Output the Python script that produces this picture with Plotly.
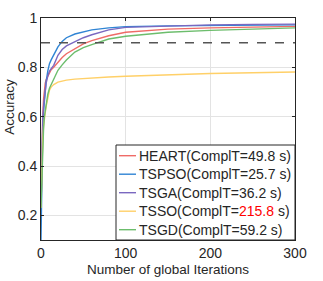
import plotly.graph_objects as go

iters = [0, 1, 2, 3, 4, 5, 6, 8, 10, 12, 15, 20, 25, 30, 40, 50, 60, 80, 100, 150, 200, 250, 300]

heart = [0.23, 0.47, 0.60, 0.67, 0.71, 0.735, 0.75, 0.765, 0.78, 0.79, 0.80, 0.822, 0.84, 0.855, 0.875, 0.895, 0.908, 0.928, 0.942, 0.955, 0.96, 0.964, 0.966]
tspso = [0.10, 0.40, 0.55, 0.62, 0.67, 0.71, 0.74, 0.785, 0.815, 0.83, 0.85, 0.883, 0.905, 0.92, 0.935, 0.945, 0.952, 0.96, 0.965, 0.968, 0.97, 0.971, 0.972]
tsga = [0.23, 0.44, 0.57, 0.64, 0.68, 0.71, 0.735, 0.765, 0.785, 0.795, 0.808, 0.849, 0.872, 0.887, 0.905, 0.92, 0.932, 0.952, 0.962, 0.968, 0.972, 0.974, 0.975]
tsso = [0.23, 0.40, 0.50, 0.56, 0.60, 0.615, 0.64, 0.68, 0.707, 0.72, 0.73, 0.74, 0.745, 0.748, 0.752, 0.755, 0.758, 0.761, 0.764, 0.77, 0.775, 0.778, 0.781]
tsgd = [0.23, 0.38, 0.48, 0.55, 0.60, 0.625, 0.65, 0.69, 0.715, 0.73, 0.748, 0.788, 0.81, 0.83, 0.862, 0.88, 0.892, 0.915, 0.926, 0.942, 0.95, 0.956, 0.96]

names = ["HEART(ComplT=49.8 s)", "TSPSO(ComplT=25.7 s)", "TSGA(ComplT=36.2 s)",
         "TSSO(ComplT=<span style='color:#ff0000'>215.8</span> s)", "TSGD(ComplT=59.2 s)"]
series = [heart, tspso, tsga, tsso, tsgd]
colors = ["#ef6b67", "#2f84d4", "#7a68c0", "#ffd068", "#6cbd6c"]

threshold = 0.9
x_ticks = [0, 100, 200, 300]
y_ticks = [0.2, 0.4, 0.6, 0.8, 1]

W, H = 323, 281
ML, MR, MT, MB = 41, 28, 18, 41
PW, PH = W - ML - MR, H - MT - MB


def px(xp):
    return (xp - ML) / PW


def py(yp):
    return (H - MB - yp) / PH


fig = go.Figure()
for name, ys, c in zip(names, series, colors):
    fig.add_trace(go.Scatter(x=iters, y=ys, mode="lines", name=name, showlegend=False,
                             line=dict(color=c, width=1.4)))

fig.add_shape(type="line", xref="x", yref="y", x0=0, x1=300, y0=threshold, y1=threshold,
              line=dict(color="#555555", width=1.5, dash="dash"))

# custom legend box (matches reference compact layout)
fig.add_shape(type="rect", xref="paper", yref="paper", x0=px(116), x1=px(295), y0=py(240), y1=py(145),
              line=dict(color="#262626", width=1), fillcolor="white", layer="above")
row_y = [155.7, 174.2, 192.7, 211.2, 229.7]
for name, c, ry in zip(names, colors, row_y):
    fig.add_shape(type="line", xref="paper", yref="paper", x0=px(119), x1=px(136), y0=py(ry), y1=py(ry),
                  line=dict(color=c, width=1.4), layer="above")
    fig.add_annotation(text=name, xref="paper", yref="paper", x=px(137), y=py(ry),
                       xanchor="left", yanchor="middle", showarrow=False,
                       font=dict(size=14, color="#262626"))

fig.add_annotation(text="Accuracy", xref="paper", yref="paper", x=-0.122, y=0.6,
                   textangle=-90, showarrow=False, xanchor="center", yanchor="middle",
                   font=dict(size=13.5, color="#262626"))

font = "Liberation Sans, Arial, sans-serif"
fig.update_layout(
    width=W, height=H,
    margin=dict(l=ML, r=MR, t=MT, b=MB),
    paper_bgcolor="white", plot_bgcolor="white",
    font=dict(family=font, size=14, color="#262626"),
    showlegend=False,
    xaxis=dict(range=[0, 300], tickvals=x_ticks, showgrid=True, gridcolor="#e3e3e3",
               showline=True, linecolor="#262626", linewidth=1, mirror="ticks",
               ticks="inside", ticklen=3, tickcolor="#262626", zeroline=False,
               automargin=False, tickfont=dict(size=14),
               title=dict(text="Number of global Iterations", font=dict(size=13.5), standoff=4)),
    yaxis=dict(range=[0.1, 1], tickvals=y_ticks, ticktext=["0.2", "0.4", "0.6", "0.8", "1"],
               showgrid=True, gridcolor="#e3e3e3",
               showline=True, linecolor="#262626", linewidth=1, mirror="ticks",
               ticks="inside", ticklen=3, tickcolor="#262626", zeroline=False,
               automargin=False, tickfont=dict(size=14)),
)

fig.write_html("out.html", config={"displayModeBar": False},
               post_script="document.body.style.margin='0';document.body.style.padding='0';")
